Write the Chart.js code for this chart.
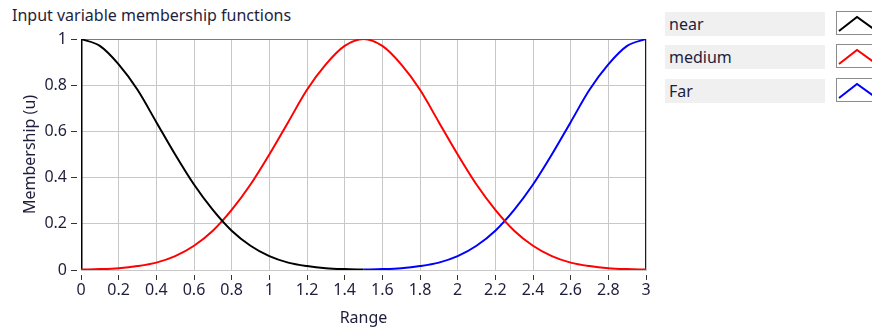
<!DOCTYPE html>
<html>
<head>
<meta charset="utf-8">
<script src="https://cdn.jsdelivr.net/npm/chart.js@4/dist/chart.umd.min.js"></script>
<style>
    body { margin: 0; background: #ffffff; font-family: "Noto Sans", sans-serif; color: #1e1e3c; }
    #wrap { position: relative; width: 872px; height: 332px; overflow: hidden; }
    #title { position: absolute; left: 12px; top: 4px; font-size: 16px; }
    #chartBox { position: absolute; left: 0; top: 0; width: 660px; height: 332px; }
    .lbl { position: absolute; left: 665px; width: 160px; height: 24px; background: #f0f0f0; font-size: 16px; line-height: 24px; padding-left: 4px; box-sizing: border-box; }
    .ico { position: absolute; left: 836px; width: 40px; height: 24px; border: 1px solid #8c8c8c; background: #fff; box-sizing: border-box; }
</style>
</head>
<body>
<div id="wrap">
    <div id="title">Input variable membership functions</div>
    <div id="chartBox"><canvas id="mfChart" width="660" height="332"></canvas></div>
    <div id="legend"></div>
</div>
<script>
// values, step 0.1 on the Range axis
const seriesNames = ["near", "medium", "Far"];
const seriesColors = ["#000000", "#ff0000", "#0000ff"];
const nearX = [0, 0.1, 0.2, 0.3, 0.4, 0.5, 0.6, 0.7, 0.8, 0.9, 1.0, 1.1, 1.2, 1.3, 1.4, 1.5];
const nearY = [1, 0.97, 0.89, 0.78, 0.64, 0.5, 0.37, 0.26, 0.17, 0.105, 0.06, 0.032, 0.017, 0.008, 0.004, 0.002];
const mediumX = [0, 0.1, 0.2, 0.3, 0.4, 0.5, 0.6, 0.7, 0.8, 0.9, 1.0, 1.1, 1.2, 1.3, 1.4, 1.5,
    1.6, 1.7, 1.8, 1.9, 2.0, 2.1, 2.2, 2.3, 2.4, 2.5, 2.6, 2.7, 2.8, 2.9, 3.0];
const mediumY = [0.002, 0.004, 0.008, 0.017, 0.032, 0.06, 0.105, 0.17, 0.26, 0.37, 0.5, 0.64, 0.78, 0.89, 0.97, 1,
    0.97, 0.89, 0.78, 0.64, 0.5, 0.37, 0.26, 0.17, 0.105, 0.06, 0.032, 0.017, 0.008, 0.004, 0.002];
const farX = [1.5, 1.6, 1.7, 1.8, 1.9, 2.0, 2.1, 2.2, 2.3, 2.4, 2.5, 2.6, 2.7, 2.8, 2.9, 3.0];
const farY = [0.002, 0.004, 0.008, 0.017, 0.032, 0.06, 0.105, 0.17, 0.26, 0.37, 0.5, 0.64, 0.78, 0.89, 0.97, 1];
// vertical edges at both ends of the range
const nearEdgeX = [0, 0];
const nearEdgeY = [0, 1];
const farEdgeX = [3, 3];
const farEdgeY = [1, 0];
const xTicks = [0, 0.2, 0.4, 0.6, 0.8, 1, 1.2, 1.4, 1.6, 1.8, 2, 2.2, 2.4, 2.6, 2.8, 3];
const yTicks = [0, 0.2, 0.4, 0.6, 0.8, 1];

function toPoints(xs, ys) {
    return xs.map(function (x, i) { return { x: x, y: ys[i] }; });
}

function lineSet(label, xs, ys, color, smooth, width) {
    return {
        label: label,
        data: toPoints(xs, ys),
        borderColor: color,
        borderWidth: width,
        pointRadius: 0,
        fill: false,
        cubicInterpolationMode: smooth ? 'monotone' : 'default',
        tension: 0
    };
}

function buildLegend() {
    let box = document.getElementById('legend');
    let tops = [12, 45, 79];
    seriesNames.forEach(function (name, i) {
        let l = document.createElement('div');
        l.className = 'lbl';
        l.style.top = tops[i] + 'px';
        l.textContent = name;
        box.appendChild(l);
        let ic = document.createElement('div');
        ic.className = 'ico';
        ic.style.top = (tops[i] - 1) + 'px';
        ic.innerHTML = '<svg width="40" height="24"><polyline points="2,19 20,5 38,18" fill="none" stroke="' +
            seriesColors[i] + '" stroke-width="2"/></svg>';
        box.appendChild(ic);
    });
}

function manageMembershipChart() {
    let ctx = document.getElementById('mfChart').getContext('2d');
    let tickFont = { family: '"Noto Sans", sans-serif', size: 16 };
    new Chart(ctx, {
        type: 'line',
        data: {
            datasets: [
                lineSet(seriesNames[0], nearX, nearY, seriesColors[0], true, 2),
                lineSet(seriesNames[1], mediumX, mediumY, seriesColors[1], true, 2),
                lineSet(seriesNames[2], farX, farY, seriesColors[2], true, 2),
                lineSet('', nearEdgeX, nearEdgeY, seriesColors[0], false, 3),
                lineSet('', farEdgeX, farEdgeY, seriesColors[2], false, 2)
            ]
        },
        options: {
            responsive: false,
            animation: false,
            layout: { padding: { left: 0, right: 14, top: 39, bottom: 0 } },
            plugins: { legend: { display: false }, tooltip: { enabled: false } },
            scales: {
                x: {
                    type: 'linear',
                    min: 0,
                    max: 3,
                    afterBuildTicks: function (s) { s.ticks = xTicks.map(function (v) { return { value: v }; }); },
                    afterFit: function (s) { s.height = 62; },
                    ticks: { color: '#1e1e3c', font: tickFont, padding: 1, maxRotation: 0,
                        callback: function (v) { return String(Math.round(v * 10) / 10); } },
                    grid: { color: '#c8c8c8', tickColor: '#333333', tickLength: 10, tickBorderDash: [0, 4, 6, 100] },
                    border: { color: '#c8c8c8' },
                    title: { display: true, text: 'Range', color: '#1e1e3c', font: tickFont, padding: { top: 0, bottom: 4 } }
                },
                y: {
                    min: 0,
                    max: 1,
                    afterBuildTicks: function (s) { s.ticks = yTicks.map(function (v) { return { value: v }; }); },
                    afterFit: function (s) { s.width = 81; },
                    ticks: { color: '#1e1e3c', font: tickFont, padding: 4,
                        callback: function (v) { return String(Math.round(v * 10) / 10); } },
                    grid: {
                        color: function (c) { return c.tick && c.tick.value === 1 ? '#7a7a7a' : '#c8c8c8'; },
                        tickColor: '#333333', tickLength: 10, tickBorderDash: [6, 100]
                    },
                    border: { color: '#c8c8c8' },
                    title: { display: true, text: 'Membership (u)', color: '#1e1e3c', font: tickFont, padding: { top: 21, bottom: 0 } }
                }
            }
        }
    });
}

buildLegend();
manageMembershipChart();
</script>
</body>
</html>
